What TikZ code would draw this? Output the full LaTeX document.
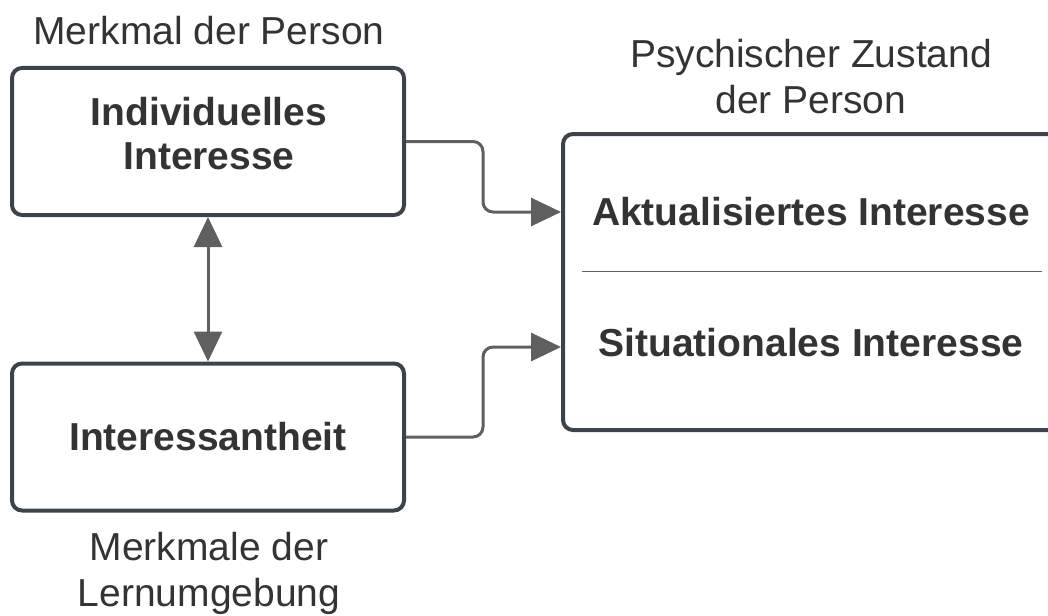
\documentclass[tikz,border=0pt]{standalone}
\usepackage{fontspec}
\setmainfont{Liberation Sans}
\usetikzlibrary{arrows.meta}
\definecolor{boxc}{HTML}{3D434B}
\definecolor{arrc}{HTML}{5F5F5F}
\definecolor{txt}{HTML}{333333}
\begin{document}
\begin{tikzpicture}[x=1pt,y=-1pt,
 box/.style={draw=boxc,line width=4pt,rounded corners=10pt,minimum width=392pt,minimum height=147pt,inner sep=0pt,text=txt,font=\fontsize{39}{44}\selectfont\bfseries,align=center},
 bigbox/.style={draw=boxc,line width=4pt,rounded corners=10pt,minimum width=507pt,minimum height=296pt,inner sep=0pt},
 lbl/.style={text=txt,font=\fontsize{39}{46}\selectfont,align=center,inner sep=0pt},
 blbl/.style={text=txt,font=\fontsize{39}{44}\selectfont\bfseries,align=center,inner sep=0pt},
 conn/.style={draw=arrc,line width=3pt,rounded corners=10pt,-{Triangle[length=30pt,width=28pt]}},
 dconn/.style={draw=arrc,line width=3pt,{Triangle[length=30pt,width=28pt]}-{Triangle[length=30pt,width=28pt]}}]
\useasboundingbox (0,0) rectangle (1048,615);
\clip (0,0) rectangle (1048,615);
\node[box] (ind) at (208,141.5) {};
\node[blbl] (indt) at (209,134) {Individuelles\\Interesse};
\node[box] (int) at (208,437) {Interessantheit};
\node[bigbox] (zus) at (816.5,282) {};
\node[lbl] (t1) at (209,31) {Merkmal der Person};
\node[lbl] (t2) at (209,573) {Merkmale der\\Lernumgebung};
\node[lbl] (t3) at (811,77) {Psychischer Zustand\\der Person};
\node[blbl] (akt) at (811,212) {Aktualisiertes Interesse};
\node[blbl] (sit) at (811,343) {Situationales Interesse};
\coordinate (s1) at (582,271);
\coordinate (s2) at (1042,271);
\draw[draw=arrc,line width=1pt] (s1) -- (s2);
\draw[conn] (ind.east) -- (483,141.5) -- (483,212) -- (zus.west |- 0,212);
\draw[conn] (int.east) -- (483,437) -- (483,347) -- (zus.west |- 0,347);
\draw[dconn] (ind.south) -- (int.north);
\end{tikzpicture}
\end{document}
